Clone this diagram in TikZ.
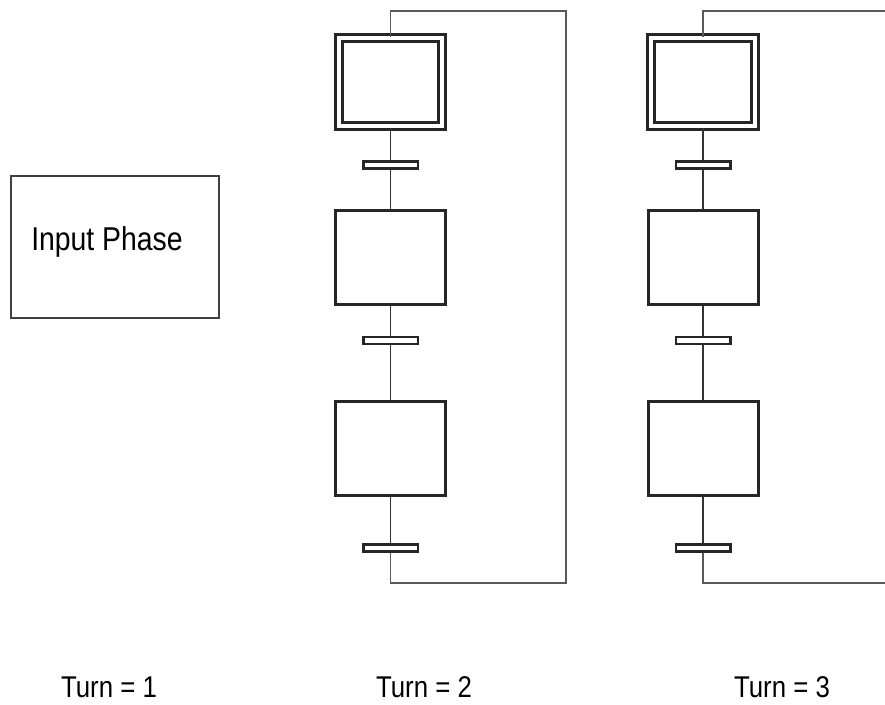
\documentclass[tikz,border=0pt]{standalone}
\usepackage{fontspec}
\setmainfont{Liberation Sans}[FakeStretch=0.86]
\begin{document}
\begin{tikzpicture}[x=1pt,y=-1pt,
  stepbox/.style={draw=black!85,line width=3pt,minimum width=110pt,minimum height=94pt,inner sep=0pt,fill=white},
  initbox/.style={stepbox,double=white,double distance=3.6pt,line width=3pt,minimum width=103.5pt,minimum height=88pt},
  transbar/.style={draw=black!85,line width=2.5pt,minimum width=54.5pt,minimum height=6.8pt,inner sep=0pt,fill=white},
  link/.style={draw=black!80,line width=1.4pt},
  loop/.style={draw=black!65,line width=1.6pt},
  label/.style={font=\fontsize{30}{34}\selectfont,anchor=base,inner sep=0pt}]
\useasboundingbox (0,0) rectangle (885,704);

% input phase box
\node[draw=black!75,line width=1.5pt,minimum width=208pt,minimum height=142pt,inner sep=0pt] (inbox) at (115,247) {};
\node[font=\fontsize{33}{38}\selectfont,anchor=base,inner sep=0pt] (intext) at (107,250) {Input Phase};

% two step sequences, one per turn
\foreach \c/\x/\xr in {a/390.5/566, b/703/890} {
  \coordinate (\c top) at (\x,11);
  \coordinate (\c topr) at (\xr,11);
  \coordinate (\c botr) at (\xr,583);
  \coordinate (\c bot) at (\x,583);
  \node[initbox] (\c s1) at (\x,82) {};
  \node[transbar] (\c t1) at (\x,165) {};
  \node[stepbox] (\c s2) at (\x,257) {};
  \node[transbar] (\c t2) at (\x,340.5) {};
  \node[stepbox] (\c s3) at (\x,448.5) {};
  \node[transbar] (\c t3) at (\x,548) {};
  \draw[link] (\c s1.south) -- (\c t1.north);
  \draw[link] (\c t1.south) -- (\c s2.north);
  \draw[link] (\c s2.south) -- (\c t2.north);
  \draw[link] (\c t2.south) -- (\c s3.north);
  \draw[link] (\c s3.south) -- (\c t3.north);
  \draw[loop] (\c t3.south) -- (\c bot) -- (\c botr) -- (\c topr) -- (\c top) -- (\c s1.north);
}

% turn labels
\node[label] (turn1) at (109,697) {Turn = 1};
\node[label] (turn2) at (424,697) {Turn = 2};
\node[label] (turn3) at (782,697) {Turn = 3};
\end{tikzpicture}
\end{document}
